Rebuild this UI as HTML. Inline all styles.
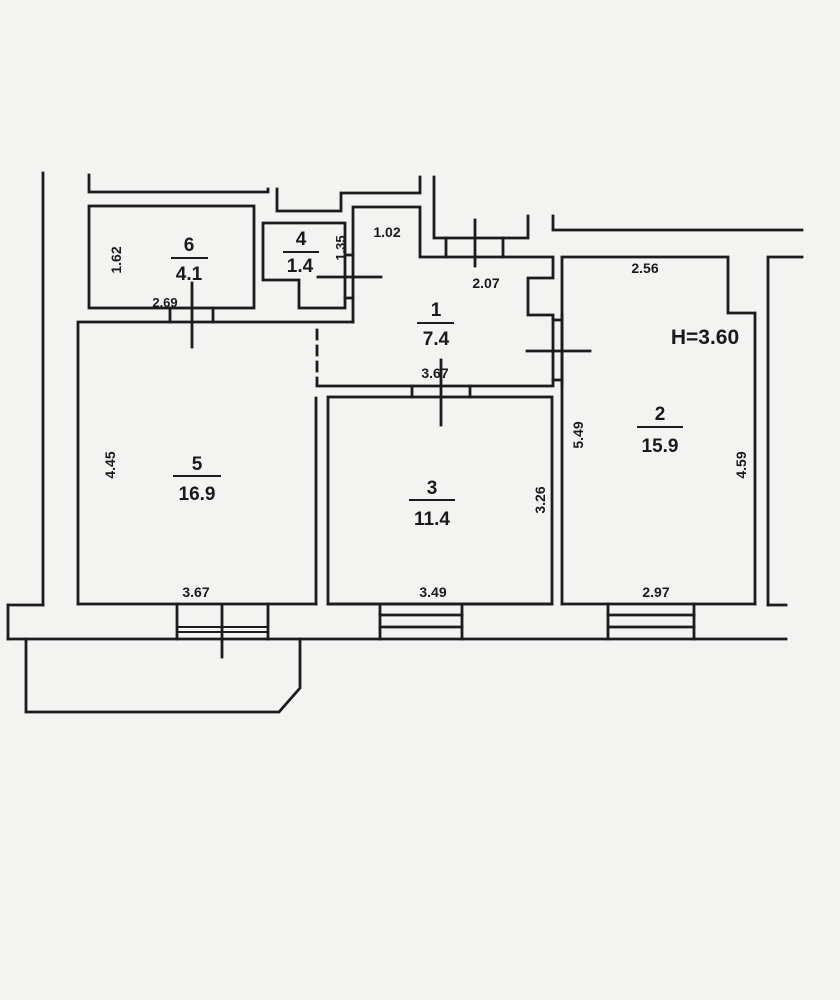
<!DOCTYPE html>
<html><head><meta charset="utf-8"><style>
html,body{margin:0;padding:0;background:#f3f3f1;}
svg{display:block;}
text{font-family:"Liberation Sans",sans-serif;fill:#1a1a1a;text-anchor:middle;font-weight:bold;}
</style></head><body>
<svg width="840" height="1000" viewBox="0 0 840 1000" xmlns="http://www.w3.org/2000/svg">
<rect width="840" height="1000" fill="#f3f3f1"/>
<g stroke="#1c1c1c" stroke-width="2.8" fill="none" stroke-linecap="square">
<line x1="43" y1="173" x2="43" y2="605"/>
<polyline points="89,175 89,192 268,192 268,189"/>
<polyline points="277,189 277,211 341,211 341,193 420,193 420,177"/>
<polyline points="434,177 434,238 528,238 528,216"/>
<line x1="446" y1="238" x2="446" y2="257"/>
<line x1="503" y1="238" x2="503" y2="257"/>
<line x1="475" y1="220" x2="475" y2="266"/>
<rect x="89" y="206" width="165" height="102"/>
<polyline points="345,223 263,223 263,280 299,280 299,308 345,308 345,223"/>
<line x1="345" y1="255" x2="353" y2="255"/>
<line x1="345" y1="298" x2="353" y2="298"/>
<line x1="318" y1="277" x2="381" y2="277"/>
<polyline points="353,322 353,207 420,207 420,257 553,257 553,278 528,278 528,315 553,315 553,386 317,386"/>
<line x1="562" y1="315" x2="562" y2="386"/>
<line x1="553" y1="320" x2="562" y2="320"/>
<line x1="553" y1="380" x2="562" y2="380"/>
<line x1="527" y1="351" x2="590" y2="351"/>
<line x1="317" y1="330" x2="317" y2="385" stroke-dasharray="9,7"/>
<polyline points="78,604 78,322 353,322"/>
<line x1="170" y1="308" x2="170" y2="322"/>
<line x1="213" y1="308" x2="213" y2="322"/>
<line x1="192" y1="283" x2="192" y2="347"/>
<line x1="316" y1="398" x2="316" y2="604"/>
<rect x="328" y="397" width="224" height="207"/>
<line x1="412" y1="386" x2="412" y2="397"/>
<line x1="470" y1="386" x2="470" y2="397"/>
<line x1="441" y1="360" x2="441" y2="425"/>
<polyline points="562,604 562,257 728,257 728,313 755,313 755,604"/>
<polyline points="553,216 553,230 802,230"/>
<polyline points="802,257 768,257 768,605"/>
<line x1="8" y1="605" x2="43" y2="605"/>
<line x1="78" y1="604" x2="316" y2="604"/>
<line x1="328" y1="604" x2="552" y2="604"/>
<line x1="562" y1="604" x2="755" y2="604"/>
<line x1="768" y1="605" x2="786" y2="605"/>
<line x1="8" y1="605" x2="8" y2="639"/>
<line x1="8" y1="639" x2="786" y2="639"/>
<line x1="177" y1="604" x2="177" y2="639"/>
<line x1="268" y1="604" x2="268" y2="639"/>
<line x1="177" y1="627" x2="268" y2="627" stroke-width="2"/>
<line x1="177" y1="632" x2="268" y2="632" stroke-width="2"/>
<line x1="222" y1="606" x2="222" y2="657"/>
<line x1="380" y1="604" x2="380" y2="639"/>
<line x1="462" y1="604" x2="462" y2="639"/>
<line x1="380" y1="615" x2="462" y2="615"/>
<line x1="380" y1="627" x2="462" y2="627"/>
<line x1="608" y1="604" x2="608" y2="639"/>
<line x1="694" y1="604" x2="694" y2="639"/>
<line x1="608" y1="615" x2="694" y2="615"/>
<line x1="608" y1="627" x2="694" y2="627"/>
<polyline points="26,639 26,712 279,712 300,688 300,639"/>
<line x1="172" y1="258" x2="207" y2="258" stroke-width="2"/>
<line x1="284" y1="252" x2="318" y2="252" stroke-width="2"/>
<line x1="418" y1="323" x2="453" y2="323" stroke-width="2"/>
<line x1="638" y1="427" x2="682" y2="427" stroke-width="2"/>
<line x1="174" y1="476" x2="220" y2="476" stroke-width="2"/>
<line x1="410" y1="500" x2="454" y2="500" stroke-width="2"/>
</g>
<g font-size="19">
<text x="189" y="251">6</text><text x="189" y="280">4.1</text>
<text x="301" y="245">4</text><text x="300" y="272">1.4</text>
<text x="436" y="316">1</text><text x="436" y="345">7.4</text>
<text x="660" y="420">2</text><text x="660" y="452">15.9</text>
<text x="197" y="470">5</text><text x="197" y="500">16.9</text>
<text x="432" y="494">3</text><text x="432" y="525">11.4</text>
<text x="705" y="344" font-size="21">H=3.60</text>
</g>
<g font-size="14">
<text x="165" y="307" font-size="13">2.69</text>
<text x="387" y="237">1.02</text>
<text x="486" y="288">2.07</text>
<text x="435" y="378">3.67</text>
<text x="645" y="273">2.56</text>
<text x="196" y="597">3.67</text>
<text x="433" y="597">3.49</text>
<text x="656" y="597">2.97</text>
<text transform="translate(121,260) rotate(-90)">1.62</text>
<text transform="translate(345,248) rotate(-90)" font-size="13">1.35</text>
<text transform="translate(583,435) rotate(-90)">5.49</text>
<text transform="translate(746,465) rotate(-90)">4.59</text>
<text transform="translate(115,465) rotate(-90)">4.45</text>
<text transform="translate(545,500) rotate(-90)">3.26</text>
</g>
</svg>
</body></html>
